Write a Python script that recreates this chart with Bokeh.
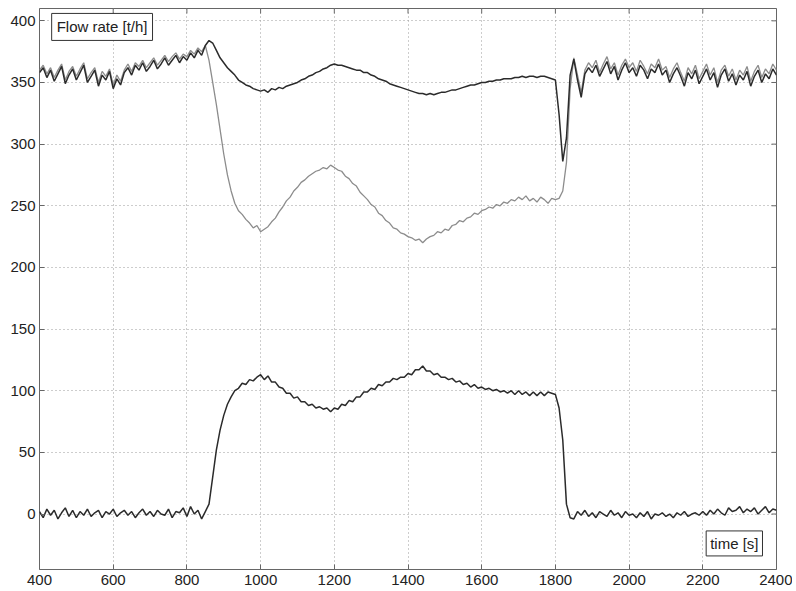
import math
from bokeh.plotting import figure
from bokeh.models import Range1d, Label, FixedTicker
from bokeh.embed import file_html
from bokeh.resources import INLINE

# time axis [s]
time_s = list(range(400, 2401, 10))

# upper measured flow (dark) [t/h]
flow_upper = [
    358, 362, 354, 360, 351, 357, 363, 349, 356, 361,
    352, 358, 364, 350, 355, 360, 347, 356, 352, 359,
    345, 353, 348, 358, 362, 356, 364, 360, 366, 359,
    363, 368, 361, 365, 370, 364, 368, 372, 366, 371,
    368, 374, 370, 376, 372, 380, 384, 382, 376, 370,
    366, 362, 359, 356, 352, 350, 348, 347, 345, 344,
    343, 344, 342, 345, 344, 346, 345, 347, 348, 349,
    350, 352, 353, 355, 356, 358, 359, 361, 362, 364,
    365, 364, 364, 363, 362, 361, 360, 360, 358, 358,
    356, 355, 353, 352, 351, 349, 348, 347, 346, 345,
    344, 343, 342, 341, 341, 340, 341, 340, 341, 342,
    342, 343, 344, 344, 345, 346, 347, 348, 348, 349,
    350, 350, 351, 351, 352, 352, 353, 353, 353, 354,
    354, 355, 354, 355, 355, 354, 355, 355, 354, 353,
    352, 324, 286, 305, 356, 369, 352, 338, 357, 362,
    358, 364, 355, 361, 367, 357, 363, 352, 360, 366,
    358, 362, 355, 364, 360, 353, 361, 358, 365, 356,
    360, 350, 357, 362, 355, 347, 358, 353, 360, 349,
    355, 361, 352, 358, 346, 356, 361, 351, 357, 348,
    356, 352, 359, 347, 355, 360, 350, 357, 353, 361,
    356,
]

# upper model flow (gray) [t/h]
flow_model = [
    360, 364, 357, 362, 354, 360, 365, 352, 359, 363,
    355, 361, 366, 353, 358, 362, 350, 359, 355, 361,
    348, 356, 351, 360, 365, 359, 366, 363, 368, 362,
    366, 370, 364, 368, 372, 367, 371, 374, 369, 373,
    371, 376, 373, 378, 375, 380, 368, 350, 332, 312,
    292, 275, 262, 252, 246, 243, 239, 236, 232, 234,
    229, 231, 233, 237, 240, 245, 249, 254, 257, 262,
    265, 269, 271, 274, 276, 278, 279, 281, 280, 283,
    281, 279, 278, 274, 272, 268, 266, 261, 258, 255,
    251, 249, 244, 242, 238, 236, 232, 231, 228, 227,
    225, 224, 222, 223, 220, 223, 225, 226, 229, 228,
    231, 230, 234, 235, 238, 237, 240, 241, 244, 243,
    246, 247, 249, 248, 251, 250, 253, 252, 255, 254,
    257, 255, 258, 254, 256, 253, 257, 255, 252, 256,
    255, 256, 262, 285, 345, 370, 356, 342, 360, 366,
    362, 368, 358, 365, 371, 361, 366, 356, 364, 369,
    362, 366, 359, 368, 363, 357, 365, 362, 369, 360,
    363, 354, 361, 366, 358, 351, 362, 357, 364, 353,
    359, 365, 356, 362, 350, 360, 364, 355, 361, 352,
    360, 356, 363, 351, 359, 364, 354, 361, 357, 365,
    360,
]

# residual flow (dark, bottom) [t/h]
flow_residual = [
    2, -3, 4, -1, 3, -4, 1, 5, -2, 3,
    -3, 2, -1, 4, -2, 1, 3, -3, 2, 0,
    4, -2, 1, 3, -1, 2, -3, 1, 4, -1,
    2, -2, 3, 0, -1, 4, -3, 2, 1, 5,
    -2, 6, 0, 3, -4, 2, 8, 30, 52, 68,
    80, 89, 95, 100, 102, 106, 105, 109, 108, 111,
    113, 109, 112, 107, 107, 103, 102, 98, 98, 94,
    95, 91, 91, 88, 89, 86, 87, 85, 86, 83,
    86, 85, 89, 88, 92, 91, 95, 95, 99, 99,
    102, 101, 105, 104, 107, 107, 110, 109, 111, 111,
    114, 113, 117, 117, 120, 116, 116, 113, 114, 111,
    111, 109, 110, 107, 108, 105, 106, 103, 105, 102,
    103, 101, 102, 100, 101, 99, 100, 98, 100, 97,
    100, 97, 99, 96, 99, 96, 99, 96, 99, 98,
    97, 86, 60, 8, -3, -4, 2, -1, 3, -2,
    1, -3, 2, 0, -2, 3, -1, 1, -3, 2,
    -1, 0, -3, 1, -2, 2, -4, 0, -1, 1,
    -2, 0, -3, 1, -1, 2, -2, 0, 1, -1,
    2, -1, 3, 0, 4, 1, -1, 5, 2, 3,
    6, 1, 4, 2, 5, 0, 3, 6, 1, 4,
    3,
]

x_ticks = list(range(400, 2401, 200))
y_ticks = list(range(0, 401, 50))
x_min, x_max = 400, 2400
y_min, y_max = -45, 410

FONT = "Liberation Sans"
FRAME = "#666666"

p = figure(width=792, height=591, output_backend="svg", toolbar_location=None,
           x_range=Range1d(x_min, x_max), y_range=Range1d(y_min, y_max),
           min_border_left=39, min_border_right=16, min_border_top=8,
           min_border_bottom=22)
p.background_fill_color = "white"
p.border_fill_color = "white"
p.outline_line_color = FRAME
p.outline_line_width = 1

for ax in (p.xaxis[0], p.yaxis[0]):
    ax.major_tick_in = 5
    ax.major_tick_out = 0
    ax.minor_tick_line_color = None
    ax.axis_line_color = None
    ax.major_tick_line_color = FRAME
    ax.major_label_text_font = FONT
    ax.major_label_text_font_size = "15px"
    ax.major_label_text_color = "#222222"
    ax.axis_label_standoff = 0
p.xaxis[0].ticker = FixedTicker(ticks=x_ticks)
p.yaxis[0].ticker = FixedTicker(ticks=y_ticks)
p.xaxis[0].major_label_standoff = 5
p.yaxis[0].major_label_standoff = 4

# inside tick marks on the right and top edges of the box
p.scatter([x_max] * len(y_ticks), y_ticks, marker="dash", size=10,
          line_color=FRAME, line_width=1)
p.scatter(x_ticks, [y_max] * len(x_ticks), marker="dash", size=10, angle=math.pi / 2,
          line_color=FRAME, line_width=1)

p.xgrid.ticker = FixedTicker(ticks=x_ticks)
p.ygrid.ticker = FixedTicker(ticks=y_ticks)
p.grid.grid_line_color = "#9a9a9a"
p.grid.grid_line_dash = "1 3"
p.grid.grid_line_width = 1

p.line(time_s, flow_model, line_color="#8c8c8c", line_width=1.3)
p.line(time_s, flow_upper, line_color="#2b2b2b", line_width=1.5)
p.line(time_s, flow_residual, line_color="#2b2b2b", line_width=1.5)

p.add_layout(Label(x=433, y=406, text="Flow rate [t/h]", text_align="left",
                   text_baseline="top", text_font=FONT, text_font_size="15px",
                   text_color="#222222", border_line_color="#333333",
                   background_fill_color="white", padding=5))
p.add_layout(Label(x=2362, y=-34, text="time [s]", text_align="right",
                   text_baseline="bottom", text_font=FONT, text_font_size="15px",
                   text_color="#222222", border_line_color="#333333",
                   background_fill_color="white", padding=4))

open("out.html", "w").write(file_html(p, INLINE))
